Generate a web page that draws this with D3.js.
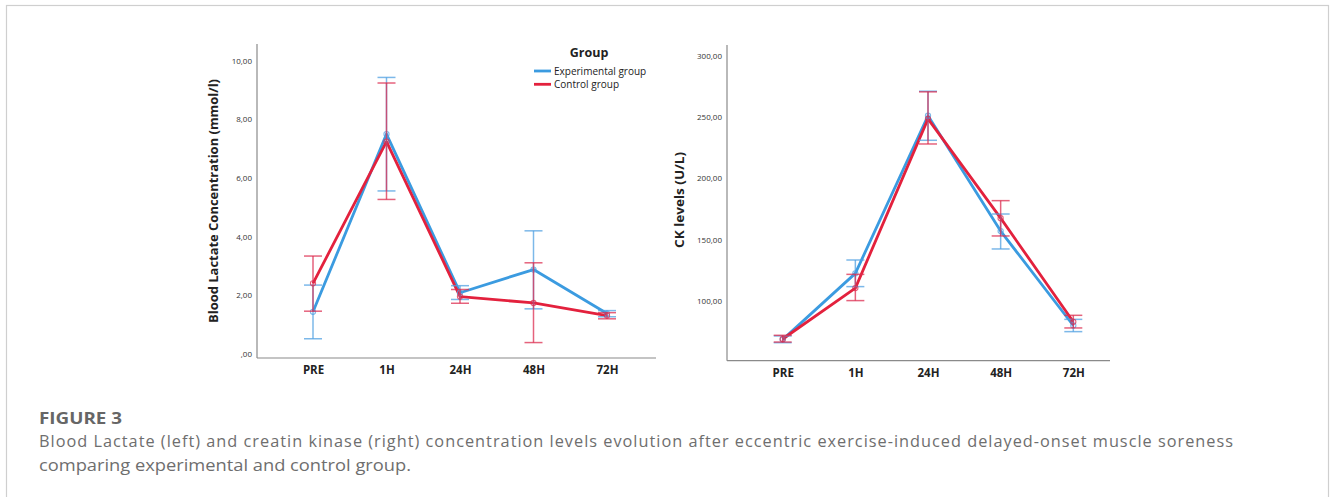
<!DOCTYPE html>
<html><head><meta charset="utf-8">
<script src="https://cdn.jsdelivr.net/npm/d3@7"></script>
<style>
html,body{margin:0;padding:0;background:#fff;}
svg{display:block;}
text{font-family:"Open Sans","DejaVu Sans",sans-serif;}
</style></head>
<body><svg id="c" width="1330" height="497"></svg>
<script>
const categories = ["PRE","1H","24H","48H","72H"];
const groups = ["Experimental group","Control group"];

const lactateExpMean  = [1.44, 7.50, 2.09, 2.88, 1.38];
const lactateExpLow   = [0.52, 5.56, 1.86, 1.54, 1.27];
const lactateExpHigh  = [2.35, 9.43, 2.33, 4.20, 1.48];
const lactateCtrlMean = [2.41, 7.24, 1.96, 1.74, 1.31];
const lactateCtrlLow  = [1.46, 5.27, 1.73, 0.39, 1.20];
const lactateCtrlHigh = [3.34, 9.24, 2.20, 3.11, 1.41];

const ckExpMean  = [68.5, 122.5, 251.0, 157.0, 80.0];
const ckExpLow   = [66.0, 111.7, 231.0, 142.4, 75.0];
const ckExpHigh  = [71.5, 133.4, 271.0, 170.9, 85.0];
const ckCtrlMean = [69.0, 110.5, 248.5, 167.5, 83.0];
const ckCtrlLow  = [66.5, 100.3, 228.0, 153.0, 78.0];
const ckCtrlHigh = [72.0, 121.7, 270.5, 181.8, 88.3];

const lactateTicks = [0, 2, 4, 6, 8, 10];
const lactateTickLabels = [",00", "2,00", "4,00", "6,00", "8,00", "10,00"];
const ckTicks = [100, 150, 200, 250, 300];
const ckTickLabels = ["100,00", "150,00", "200,00", "250,00", "300,00"];

const captionTitle = "FIGURE 3";
const captionLines = [
  "Blood Lactate (left) and creatin kinase (right) concentration levels evolution after eccentric exercise-induced delayed-onset muscle soreness",
  "comparing experimental and control group."
];

const blue = "#3b9be0", red = "#e3213d";
const blueEB = "rgba(80,160,225,0.75)", redEB = "rgba(220,45,80,0.75)";

const svg = d3.select("#c");

// figure frame
svg.append("rect").attr("x",6.5).attr("y",5.5).attr("width",1322).attr("height",500)
  .attr("fill","none").attr("stroke","#cfcfcf").attr("stroke-width",1.2);

function panel(cfg){
  const g = svg.append("g");
  const x = d3.scalePoint().domain(categories).range(cfg.xr);
  const y = d3.scaleLinear().domain(cfg.yd).range(cfg.yr);
  g.append("line").attr("x1",cfg.axX).attr("x2",cfg.axX).attr("y1",cfg.yr[1]).attr("y2",cfg.yr[0])
    .attr("stroke","#8a8a8a").attr("stroke-width",1.2);
  g.append("line").attr("x1",cfg.axX).attr("x2",cfg.axEnd).attr("y1",cfg.yr[0]).attr("y2",cfg.yr[0])
    .attr("stroke","#8a8a8a").attr("stroke-width",1.2);
  const ya = g.append("g").attr("transform",`translate(${cfg.axX},0)`)
    .call(d3.axisLeft(y).tickValues(cfg.ticks).tickSize(0).tickPadding(5)
      .tickFormat((d,i)=>cfg.tickLabels[i]));
  ya.select(".domain").remove();
  ya.selectAll("text").attr("font-size",8).attr("fill","#333").attr("font-family","'Open Sans',sans-serif");
  const xa = g.append("g").attr("transform",`translate(0,${cfg.yr[0]})`)
    .call(d3.axisBottom(x).tickSize(0).tickPadding(8));
  xa.select(".domain").remove();
  xa.selectAll("text").attr("font-size",11.5).attr("font-weight","bold").attr("fill","#222");
  g.append("text").attr("transform",`translate(${cfg.titleX},${cfg.titleY}) rotate(-90)`)
    .attr("text-anchor","middle").attr("dominant-baseline","central")
    .attr("font-size",11.5).attr("font-weight","bold").attr("fill","#222")
    .attr("textLength",cfg.titleLen).attr("lengthAdjust","spacingAndGlyphs")
    .text(cfg.title);

  const series = [
    {mean:cfg.exp[0], lo:cfg.exp[1], hi:cfg.exp[2], c:blue, eb:blueEB},
    {mean:cfg.ctrl[0], lo:cfg.ctrl[1], hi:cfg.ctrl[2], c:red, eb:redEB}
  ];
  const line = d3.line().x((d,i)=>x(categories[i])).y(d=>y(d));
  series.forEach(s=>{
    g.append("path").datum(s.mean).attr("d",line).attr("fill","none")
      .attr("stroke",s.c).attr("stroke-width",2.8).attr("stroke-linejoin","round");
  });
  series.forEach(s=>{
    const eb = g.append("g").attr("stroke",s.eb).attr("stroke-width",1.5).attr("fill","none");
    categories.forEach((c,i)=>{
      const cx = x(c);
      eb.append("line").attr("x1",cx).attr("x2",cx).attr("y1",y(s.lo[i])).attr("y2",y(s.hi[i]));
      eb.append("line").attr("x1",cx-9).attr("x2",cx+9).attr("y1",y(s.lo[i])).attr("y2",y(s.lo[i]));
      eb.append("line").attr("x1",cx-9).attr("x2",cx+9).attr("y1",y(s.hi[i])).attr("y2",y(s.hi[i]));
      eb.append("circle").attr("cx",cx).attr("cy",y(s.mean[i])).attr("r",2.6).attr("stroke-width",1.1);
    });
  });
  return g;
}

panel({
  xr:[313,607], yd:[-0.136,10.57], yr:[358,44], axX:257, axEnd:656,
  ticks:lactateTicks, tickLabels:lactateTickLabels,
  title:"Blood Lactate Concentration (mmol/l)", titleX:213, titleY:201, titleLen:244,
  exp:[lactateExpMean,lactateExpLow,lactateExpHigh],
  ctrl:[lactateCtrlMean,lactateCtrlLow,lactateCtrlHigh]
});
panel({
  xr:[782.7,1073.3], yd:[51.3,308.7], yr:[360.7,45], axX:727, axEnd:1110,
  ticks:ckTicks, tickLabels:ckTickLabels,
  title:"CK levels (U/L)", titleX:679, titleY:200, titleLen:96,
  exp:[ckExpMean,ckExpLow,ckExpHigh],
  ctrl:[ckCtrlMean,ckCtrlLow,ckCtrlHigh]
});

const lg = svg.append("g");
lg.append("text").attr("x",589).attr("y",57).attr("text-anchor","middle")
  .attr("font-size",12.5).attr("font-weight","bold").attr("fill","#222").text("Group");
[blue, red].forEach((c,i)=>{
  const yy = 71 + i*13.3;
  lg.append("line").attr("x1",534).attr("x2",551).attr("y1",yy).attr("y2",yy)
    .attr("stroke",c).attr("stroke-width",2.8);
  lg.append("text").attr("x",554).attr("y",yy).attr("dominant-baseline","central")
    .attr("font-size",10).attr("fill","#222").text(groups[i]);
});

svg.append("text").attr("x",39).attr("y",424).attr("font-size",16).attr("font-weight","bold")
  .attr("fill","#666").attr("textLength",83).attr("lengthAdjust","spacingAndGlyphs").text(captionTitle);
svg.append("text").attr("x",39).attr("y",447).attr("font-size",16.3)
  .attr("fill","#6e6e6e").attr("textLength",1194).attr("lengthAdjust","spacing").text(captionLines[0]);
svg.append("text").attr("x",39).attr("y",471).attr("font-size",16.3)
  .attr("fill","#6e6e6e").attr("textLength",372).attr("lengthAdjust","spacingAndGlyphs").text(captionLines[1]);
</script></body></html>
